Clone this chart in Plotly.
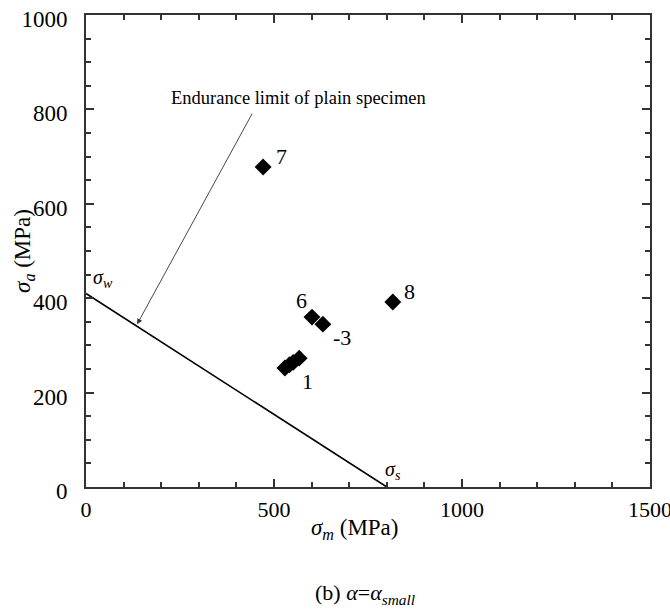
import plotly.graph_objects as go

# Data
sigma_m = [529, 541, 551, 567, 601, 630, 471, 816]
sigma_a = [252, 259, 264, 273, 360, 345, 678, 392]

point_labels = ["1", "-3", "6", "7", "8"]
label_x = [529, 630, 601, 471, 816]
label_y = [252, 345, 360, 678, 392]

limit_x = [0, 800]
limit_y = [410, 0]

FONT = "Liberation Serif"

fig = go.Figure()
fig.add_trace(go.Scatter(x=limit_x, y=limit_y, mode="lines",
                         line=dict(color="black", width=1.6), showlegend=False,
                         hoverinfo="skip"))
fig.add_trace(go.Scatter(x=sigma_m, y=sigma_a, mode="markers",
                         marker=dict(symbol="diamond", size=13, color="black"),
                         showlegend=False))

# point labels
offsets = {"1": (23, -13), "-3": (19, -13), "6": (-10, 17), "7": (18, 10), "8": (17, 10)}
for t, x, y in zip(point_labels, label_x, label_y):
    dx, dy = offsets[t]
    fig.add_annotation(x=x, y=y, text=t, showarrow=False, xshift=dx, yshift=dy,
                       xanchor="center", yanchor="middle",
                       font=dict(family=FONT, size=22, color="black"))

# sigma_w / sigma_s labels
fig.add_annotation(x=0, y=410, text="<i>σ<sub>w</sub></i>", showarrow=False,
                   xanchor="left", yanchor="bottom", xshift=5, yshift=0,
                   font=dict(family=FONT, size=20, color="black"))
fig.add_annotation(x=800, y=0, text="<i>σ<sub>s</sub></i>", showarrow=False,
                   xanchor="center", yanchor="middle", xshift=6, yshift=17,
                   font=dict(family=FONT, size=20, color="black"))

# endurance limit annotation with arrow
fig.add_annotation(x=136, y=345, ax=444, ay=794, axref="x", ayref="y",
                   text="", showarrow=True, arrowhead=2, arrowsize=1.2,
                   arrowwidth=0.9, arrowcolor="#333")
fig.add_annotation(x=564, y=824, text="Endurance limit of plain specimen",
                   showarrow=False, xanchor="center", yanchor="middle",
                   font=dict(family=FONT, size=18.5, color="black"))

# axis titles and caption
fig.add_annotation(xref="paper", yref="paper", x=0.477, y=-0.089,
                   text="<i>σ<sub>m</sub></i> (MPa)", showarrow=False,
                   xanchor="center", yanchor="middle",
                   font=dict(family=FONT, size=23, color="black"))
fig.add_annotation(xref="paper", yref="paper", x=-0.11, y=0.5,
                   text="<i>σ<sub>a</sub></i> (MPa)", showarrow=False,
                   textangle=-90, xanchor="center", yanchor="middle",
                   font=dict(family=FONT, size=23, color="black"))
fig.add_annotation(xref="paper", yref="paper", x=0.495, y=-0.2267,
                   text="(b) <i>α</i>=<i>α<sub>small</sub></i>", showarrow=False,
                   xanchor="center", yanchor="middle",
                   font=dict(family=FONT, size=22, color="black"))

axis_common = dict(showgrid=False, zeroline=False, showline=True, linecolor="#333",
                   linewidth=2, mirror="ticks", ticks="inside", ticklen=8,
                   tickwidth=2, tickcolor="#333", automargin=False,
                   ticklabeloverflow="allow")

fig.update_xaxes(range=[0, 1500], dtick=500, tick0=0, ticklabelstandoff=2,
                 tickfont=dict(family=FONT, size=22, color="black"),
                 minor=dict(dtick=100, ticks="inside", ticklen=5, tickwidth=1.5,
                            tickcolor="#333"),
                 **axis_common)
fig.update_yaxes(range=[0, 1000], dtick=200, tick0=0, ticklabelstandoff=12,
                 ticklabelshift=4,
                 tickfont=dict(family=FONT, size=23, color="black"),
                 minor=dict(dtick=50, ticks="inside", ticklen=5, tickwidth=1.5,
                            tickcolor="#333"),
                 **axis_common)

fig.update_layout(width=670, height=613, margin=dict(l=86, r=20, t=15, b=126),
                  plot_bgcolor="white", paper_bgcolor="white",
                  font=dict(family=FONT))

# remove the default page margin so the figure fills the 670x613 window exactly
fig.write_html("out.html", config={"displayModeBar": False},
               post_script="document.body.style.margin='0';document.body.style.overflow='hidden';")
